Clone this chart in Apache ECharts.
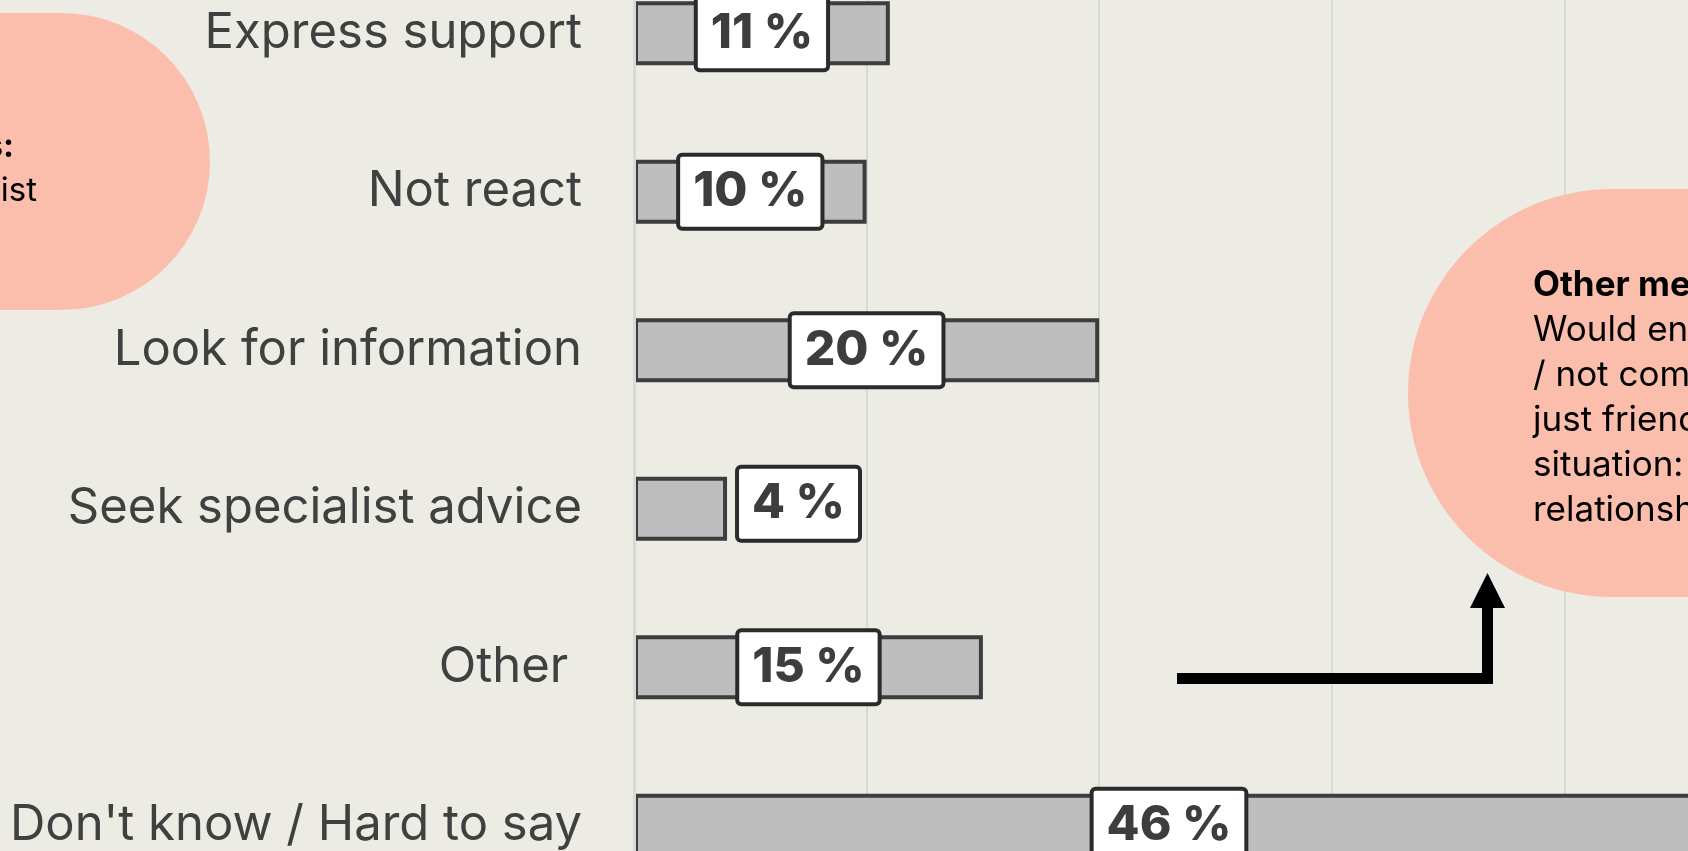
<!DOCTYPE html>
<html>
<head>
<meta charset="utf-8">
<script src="https://cdn.jsdelivr.net/npm/echarts@6/dist/echarts.min.js"></script>
<style>
  html, body { margin: 0; padding: 0; background: #ECEBE4; }
  #chart { width: 1688px; height: 851px; }
</style>
</head>
<body>
<div id="chart"></div>
<script>
// 数据
const categories = [
  "Express support",
  "Not react",
  "Look for information",
  "Seek specialist advice",
  "Other ",
  "Don't know / Hard to say",
];
const shares = [11, 10, 20, 4, 15, 46]; // %
const axisMin = 0;
const axisMax = 50;
const axisStep = 10;

const noteLeftTitle = "Specialists:";
const noteLeftBody = "psychologist";
const noteRightTitle = "Other mentions:";
const noteRightBody = [
  "Would encourage to talk",
  "/ not comment / it's",
  "just friends / depends on",
  "situation: if close",
  "relationship",
];

const font = "Inter, 'Noto Sans', sans-serif";
const pink = "#FBBEAD";

let chart = echarts.init(document.getElementById("chart"));

let option = {
  backgroundColor: "#ECEBE4",
  animation: false,
  grid: {
    left: 634,
    right: -109, // 46 % 的柱子超出画面
    top: -46,
    bottom: -54,
    outerBoundsMode: "none",
  },
  xAxis: {
    type: "value",
    min: axisMin,
    max: axisMax,
    interval: axisStep,
    axisLabel: { show: false },
    axisTick: { show: false },
    axisLine: { show: false },
    splitLine: {
      lineStyle: { color: "#D9D9D6", width: 2 },
    },
  },
  yAxis: {
    type: "category",
    inverse: true,
    data: categories,
    z: 3,
    axisTick: { show: false },
    axisLine: {
      show: true,
      lineStyle: { color: "#D9D9D6", width: 3 },
    },
    axisLabel: {
      color: "#404040",
      fontSize: 49,
      fontFamily: font,
      margin: 52,
    },
  },
  series: [
    {
      type: "bar",
      barWidth: 64,
      data: shares.map((v) => ({
        value: v,
        // 短柱子把标签放到右边
        label: v < 6 ? { position: "right", distance: 12, offset: [0, -5] } : undefined,
      })),
      itemStyle: {
        color: "#BEBEBE",
        borderColor: "#3D3D3D",
        borderWidth: 4,
      },
      label: {
        show: true,
        position: "inside",
        formatter: "{c} %",
        color: "#3D3D3D",
        fontFamily: font,
        fontWeight: 800,
        fontSize: 48,
        lineHeight: 54,
        backgroundColor: "#FFFFFF",
        borderColor: "#2B2B2B",
        borderWidth: 4,
        borderRadius: 2,
        padding: [9, 13, 7, 13],
      },
    },
  ],
  graphic: [
    // 左侧说明
    {
      type: "rect",
      z: 10,
      shape: { x: -300, y: 13, width: 510, height: 297, r: [0, 150, 150, 0] },
      style: { fill: pink },
    },
    {
      type: "text",
      z: 11,
      x: 14,
      y: 147,
      style: {
        text: noteLeftTitle,
        align: "right",
        verticalAlign: "middle",
        font: "bold 33px " + font,
        fill: "#000",
      },
    },
    {
      type: "text",
      z: 11,
      x: 37,
      y: 191,
      style: {
        text: noteLeftBody,
        align: "right",
        verticalAlign: "middle",
        font: "33px " + font,
        fill: "#000",
      },
    },
    // 右侧说明
    {
      type: "rect",
      z: 10,
      shape: { x: 1408, y: 189, width: 600, height: 408, r: [204, 0, 0, 204] },
      style: { fill: pink },
    },
    {
      type: "text",
      z: 11,
      x: 1533,
      y: 285,
      style: {
        text: noteRightTitle,
        verticalAlign: "middle",
        font: "bold 35px " + font,
        fill: "#000",
      },
    },
    {
      type: "text",
      z: 11,
      x: 1533,
      y: 308,
      style: {
        text: noteRightBody.join("\n"),
        verticalAlign: "top",
        font: "35px " + font,
        lineHeight: 45,
        fill: "#000",
      },
    },
    // 箭头
    {
      type: "polyline",
      z: 10,
      shape: { points: [[1177, 678.5], [1487.5, 678.5], [1487.5, 604]] },
      style: { stroke: "#000", lineWidth: 11, fill: null },
    },
    {
      type: "polygon",
      z: 10,
      shape: { points: [[1470, 608], [1505, 608], [1487.5, 573]] },
      style: { fill: "#000" },
    },
  ],
};

chart.setOption(option, true);

window.addEventListener("resize", () => {
  chart.resize();
});
</script>
</body>
</html>
